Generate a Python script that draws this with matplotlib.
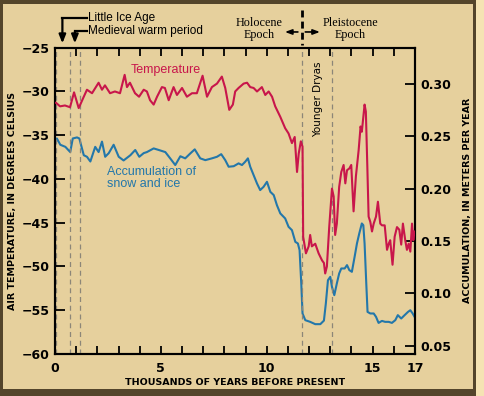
import matplotlib.pyplot as plt
from matplotlib.patches import Rectangle

# temperature record (thousands of years before present, deg C)
temp_x = [0.05, 0.24, 0.47, 0.71, 0.80, 0.90, 1.12, 1.36, 1.51, 1.75, 2.06, 2.22, 2.36,
          2.60, 2.83, 3.07, 3.29, 3.40, 3.54, 3.78, 3.97, 4.19, 4.34, 4.49, 4.66, 4.82,
          5.05, 5.19, 5.37, 5.60, 5.76, 6.00, 6.23, 6.47, 6.70, 6.97, 7.18, 7.41, 7.65,
          7.88, 8.04, 8.23, 8.40, 8.51, 8.67, 8.91, 9.07, 9.22, 9.38, 9.54, 9.77, 9.93,
          10.09, 10.25, 10.40, 10.64, 10.87, 11.03, 11.19, 11.32, 11.43, 11.51, 11.61,
          11.69, 11.72, 11.85, 11.98, 12.05, 12.13, 12.29, 12.45, 12.61, 12.70, 12.76,
          12.84, 12.95, 13.08, 13.16, 13.23, 13.31, 13.42, 13.52, 13.63, 13.71, 13.79,
          13.90, 13.99, 14.10, 14.21, 14.34, 14.43, 14.49, 14.62, 14.68, 14.75, 14.81,
          14.89, 14.97, 15.05, 15.16, 15.25, 15.36, 15.44, 15.57, 15.68, 15.76, 15.83,
          15.94, 16.04, 16.15, 16.26, 16.35, 16.43, 16.54, 16.62, 16.70, 16.78, 16.86,
          16.92, 16.98]
temp_y = [-31.3, -31.7, -31.6, -31.8, -31.0, -30.1, -31.9, -30.6, -29.8, -30.2, -29.0, -29.8, -29.3,
          -30.2, -30.0, -30.2, -28.1, -29.5, -29.0, -30.2, -30.6, -29.8, -30.0, -31.0, -31.5, -30.6,
          -29.5, -29.6, -31.0, -29.5, -30.4, -29.6, -30.6, -30.2, -30.2, -28.2, -30.6, -29.5, -29.1,
          -28.3, -29.6, -32.1, -31.5, -30.0, -29.6, -29.1, -29.0, -29.5, -29.6, -30.0, -29.5, -30.4,
          -30.0, -30.6, -31.7, -32.9, -34.2, -34.8, -35.9, -35.2, -39.2, -37.1, -35.7,
          -36.3, -46.6, -48.5, -47.7, -46.4, -47.7, -47.4, -48.5, -49.3, -49.6, -50.8,
          -50.0, -45.5, -41.1, -42.0, -46.4, -45.1, -40.9, -39.2, -38.4, -40.5, -39.0,
          -38.8, -38.4, -43.7, -39.7, -36.7, -34.0, -34.6, -31.5, -32.3, -38.6, -44.3,
          -44.9, -46.0, -45.1, -44.3, -42.6, -45.1, -45.3, -45.3, -48.1, -47.4, -47.0,
          -49.8, -46.6, -45.5, -45.8, -47.5, -45.1, -47.0, -48.1, -47.4, -48.3, -45.1,
          -47.0, -46.0]

# accumulation of snow and ice (meters per year)
acc_x = [0.05, 0.09, 0.25, 0.49, 0.72, 0.84, 1.04, 1.15, 1.36, 1.51, 1.67, 1.90, 2.06, 2.22,
         2.37, 2.54, 2.77, 3.01, 3.24, 3.56, 3.79, 3.98, 4.19, 4.34, 4.66, 4.90, 5.21, 5.44,
         5.68, 5.92, 6.15, 6.39, 6.60, 6.86, 7.10, 7.41, 7.65, 7.85, 8.04, 8.20, 8.44, 8.67,
         8.83, 8.98, 9.11, 9.22, 9.38, 9.54, 9.69, 9.85, 10.01, 10.17, 10.33, 10.48, 10.64,
         10.87, 11.03, 11.19, 11.35, 11.47, 11.55, 11.63, 11.69, 11.82, 12.05, 12.29, 12.53,
         12.70, 12.79, 12.89, 13.00, 13.08, 13.19, 13.31, 13.42, 13.52, 13.68, 13.79, 13.90,
         14.02, 14.15, 14.26, 14.37, 14.49, 14.56, 14.62, 14.70, 14.76, 14.89, 15.05, 15.16,
         15.28, 15.44, 15.59, 15.76, 15.91, 16.07, 16.19, 16.35, 16.51, 16.67, 16.78, 16.89,
         16.98]
acc_y = [0.245, 0.248, 0.242, 0.240, 0.235, 0.248, 0.249, 0.248, 0.232, 0.2305, 0.226, 0.240,
         0.235, 0.245, 0.2305, 0.234, 0.242, 0.2305, 0.227, 0.232, 0.237, 0.2305, 0.234, 0.235,
         0.2385, 0.237, 0.235, 0.229, 0.2226, 0.231, 0.229, 0.2337, 0.2376, 0.229, 0.2273, 0.229,
         0.2305, 0.233, 0.2273, 0.221, 0.2215, 0.2242, 0.2226, 0.2257, 0.229, 0.221, 0.213, 0.205,
         0.1987, 0.2018, 0.2066, 0.197, 0.1939, 0.1843, 0.1764, 0.1716, 0.1636, 0.1604, 0.1492,
         0.1477, 0.1413, 0.1095, 0.0808, 0.0744, 0.0728, 0.0706, 0.0706, 0.074, 0.0903, 0.1126,
         0.1158, 0.1062, 0.0983, 0.1095, 0.119, 0.1238, 0.1238, 0.127, 0.1222, 0.1206, 0.135,
         0.1477, 0.1573, 0.1668, 0.1652, 0.1477, 0.1095, 0.0823, 0.0808, 0.0808, 0.0776, 0.0718,
         0.0737, 0.0728, 0.0728, 0.0718, 0.0744, 0.0792, 0.0760, 0.0792, 0.0823, 0.0839, 0.0808,
         0.0776]

period_lines = [0.05, 0.72, 1.18, 11.65, 13.1]
x_labels = {0: '0', 5: '5', 10: '10', 15: '15', 17: '17'}

red = '#c8164b'
blue = '#2377aa'
dark = '#54452b'
cond = ['Liberation Sans Narrow', 'DejaVu Sans']
sans = ['Liberation Sans', 'DejaVu Sans']

fig = plt.figure(figsize=(4.84, 3.96), dpi=100, facecolor='#e6d09d')
W, H = 484.0, 396.0
# frame: dark edges and a light strip on the right
for (x0, y0, w, h, c) in [(0, 0, 3, H, dark), (0, H - 4, 476, 4, dark), (0, 0, 476, 7, dark),
                          (473, 0, 3, H, dark), (476, 0, 8, H, '#f5e3b3')]:
    fig.patches.append(Rectangle((x0 / W, y0 / H), w / W, h / H, transform=fig.transFigure,
                                 facecolor=c, edgecolor='none', zorder=0))

ax = fig.add_axes([0.1136, 0.1061, 0.7438, 0.7734])
ax2 = ax.twinx()
ax2.set_zorder(ax.get_zorder() - 1)
ax.patch.set_visible(False)
ax2.patch.set_visible(False)

for x in period_lines:
    ax.axvline(x, color='#8c8678', lw=0.9, ls=(0, (4, 3)), zorder=1)

ax.plot(temp_x, temp_y, color=red, lw=1.5, zorder=3)
ax2.plot(acc_x, acc_y, color=blue, lw=1.5, zorder=3)

ax.set_xlim(0, 17)
ax.set_ylim(-60, -25)
ax2.set_ylim(0.0421, 0.3347)

ax.set_xticks(range(0, 18))
ax.set_xticklabels([x_labels.get(i, '') for i in range(0, 18)])
ax.set_yticks(range(-60, -24, 5))
ax2.set_yticks([0.05, 0.10, 0.15, 0.20, 0.25, 0.30])
ax2.set_yticklabels(['0.05', '0.10', '0.15', '0.20', '0.25', '0.30'])

ax.tick_params(axis='x', direction='in', length=6, width=1.3, top=True, pad=6)
ax.tick_params(axis='y', direction='in', length=7, width=1.3, pad=4)
ax2.tick_params(axis='y', direction='in', length=7, width=1.3, pad=4)
for lab in ax.get_xticklabels() + ax.get_yticklabels() + ax2.get_yticklabels():
    lab.set_family(cond)
    lab.set_fontweight('bold')
    lab.set_fontsize(9)
for a in (ax, ax2):
    for s in a.spines.values():
        s.set_linewidth(1.5)

ax.set_xlabel('THOUSANDS OF YEARS BEFORE PRESENT', family=cond, fontweight='bold',
              fontsize=6.8)
ax.set_ylabel('AIR TEMPERATURE, IN DEGREES CELSIUS', family=cond, fontweight='bold',
              fontsize=6.8)
ax2.set_ylabel('ACCUMULATION, IN METERS PER YEAR', family=cond, fontweight='bold',
               fontsize=6.8)
ax.xaxis.set_label_coords(0.5, -24 / 306.3)
ax.yaxis.set_label_coords(-38 / 360, 0.5)
ax2.yaxis.set_label_coords(1 + 48 / 360, 0.5)

ax.text(5.24, -27.55, 'Temperature', color=red, fontsize=9, family=sans,
        ha='center', va='center')
ax.text(2.46, -39.9, 'Accumulation of\nsnow and ice', color=blue, fontsize=9, family=sans,
        ha='left', va='center', linespacing=0.95)
ax.text(12.4, -30.9, 'Younger Dryas', rotation=90, fontsize=7.5, family=cond,
        ha='center', va='center')

# period callouts above the plot
for xv, yc, label in [(0.35, -21.6, 'Little Ice Age'), (0.94, -23.09, 'Medieval warm period')]:
    ax.plot([xv, 1.5], [yc, yc], color='black', lw=1.6, clip_on=False)
    ax.annotate('', xy=(xv, -24.5), xytext=(xv, yc - 0.08), annotation_clip=False,
                arrowprops=dict(arrowstyle='-|>,head_length=0.5,head_width=0.2',
                                color='black', lw=1.6, shrinkA=0, shrinkB=0))
    ax.text(1.58, yc, label, fontsize=8.5, family=sans, ha='left', va='center')

ax.plot([11.65, 11.65], [-20.7, -24.7], color='black', lw=2, ls=(0, (2.5, 1.5)),
        clip_on=False)
ax.annotate('', xy=(10.86, -23.2), xytext=(11.47, -23.2), annotation_clip=False,
            arrowprops=dict(arrowstyle='-|>,head_length=0.4,head_width=0.15',
                            color='black', lw=1.2, shrinkA=0, shrinkB=0))
ax.annotate('', xy=(12.51, -23.2), xytext=(11.82, -23.2), annotation_clip=False,
            arrowprops=dict(arrowstyle='-|>,head_length=0.4,head_width=0.15',
                            color='black', lw=1.2, shrinkA=0, shrinkB=0))
ax.text(9.63, -22.86, 'Holocene\nEpoch', family='Liberation Serif', fontsize=8.7,
        ha='center', va='center', linespacing=0.95)
ax.text(13.93, -22.86, 'Pleistocene\nEpoch', family='Liberation Serif', fontsize=8.7,
        ha='center', va='center', linespacing=0.95)

fig.savefig('out.png', dpi=100, facecolor=fig.get_facecolor())
